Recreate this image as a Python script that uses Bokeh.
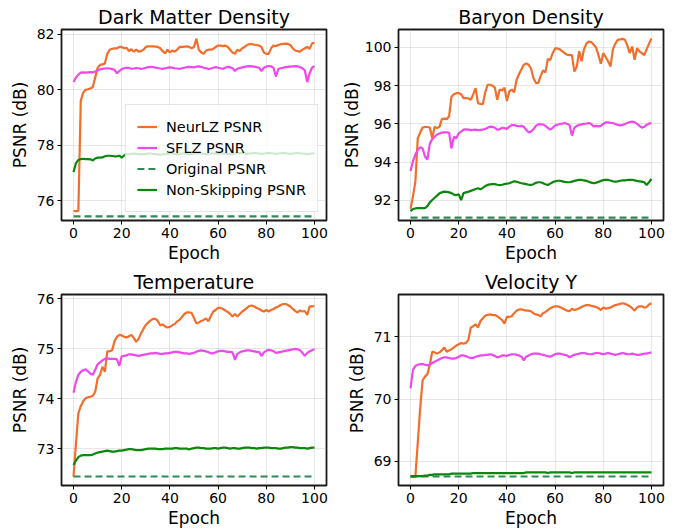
from bokeh.plotting import figure
from bokeh.layouts import gridplot
from bokeh.models import Range1d, FixedTicker
from bokeh.embed import file_html
from bokeh.resources import INLINE

epochs = list(range(101))

# ---------------- Dark Matter Density ----------------
dm_neurlz = [75.62, 75.62, 75.63, 79.60, 79.90, 80.00, 80.02, 80.05, 80.10, 80.45, 80.80,
             80.90, 80.92, 80.95, 81.30, 81.45, 81.48, 81.50, 81.50, 81.55, 81.55,
             81.50, 81.52, 81.40, 81.47, 81.38, 81.45, 81.38, 81.40, 81.45, 81.55,
             81.57, 81.57, 81.57, 81.56, 81.55, 81.50, 81.40, 81.32, 81.45, 81.35,
             81.42, 81.38, 81.45, 81.55, 81.55, 81.56, 81.57, 81.55, 81.50, 81.55,
             81.85, 81.45, 81.35, 81.30, 81.42, 81.45, 81.45, 81.48, 81.55, 81.60,
             81.60, 81.58, 81.60, 81.55, 81.45, 81.35, 81.30, 81.45, 81.40, 81.50,
             81.55, 81.62, 81.65, 81.65, 81.63, 81.62, 81.60, 81.55, 81.35, 81.30,
             81.30, 81.50, 81.60, 81.58, 81.62, 81.65, 81.66, 81.67, 81.66, 81.62,
             81.50, 81.42, 81.40, 81.38, 81.45, 81.50, 81.55, 81.48, 81.68, 81.70]
dm_sflz = [80.28, 80.45, 80.55, 80.62, 80.63, 80.62, 80.63, 80.64, 80.63, 80.66, 80.70,
           80.74, 80.76, 80.77, 80.78, 80.77, 80.75, 80.72, 80.60, 80.68, 80.75,
           80.78, 80.80, 80.79, 80.76, 80.77, 80.79, 80.78, 80.76, 80.77, 80.80,
           80.82, 80.83, 80.82, 80.80, 80.79, 80.77, 80.76, 80.78, 80.80, 80.81,
           80.80, 80.78, 80.77, 80.76, 80.78, 80.80, 80.82, 80.83, 80.82, 80.81,
           80.84, 80.85, 80.83, 80.80, 80.78, 80.75, 80.77, 80.80, 80.82, 80.80,
           80.78, 80.76, 80.80, 80.83, 80.82, 80.78, 80.68, 80.76, 80.79, 80.81,
           80.83, 80.85, 80.86, 80.85, 80.84, 80.82, 80.80, 80.68, 80.80, 80.84,
           80.86, 80.85, 80.80, 80.48, 80.75, 80.78, 80.80, 80.82, 80.83, 80.84,
           80.85, 80.86, 80.85, 80.82, 80.78, 80.70, 80.28, 80.60, 80.80, 80.86]
dm_nonskip = [77.03, 77.35, 77.47, 77.50, 77.51, 77.50, 77.50, 77.49, 77.45, 77.52, 77.55,
              77.55, 77.56, 77.60, 77.62, 77.62, 77.61, 77.60, 77.60, 77.62, 77.55,
              77.63, 77.68, 77.68, 77.69, 77.70, 77.69, 77.68, 77.67, 77.68, 77.69,
              77.70, 77.70, 77.69, 77.68, 77.67, 77.66, 77.67, 77.68, 77.69, 77.70,
              77.70, 77.69, 77.68, 77.69, 77.70, 77.70, 77.69, 77.68, 77.69, 77.70,
              77.70, 77.71, 77.70, 77.69, 77.68, 77.69, 77.70, 77.71, 77.70, 77.69,
              77.70, 77.71, 77.70, 77.69, 77.68, 77.69, 77.70, 77.71, 77.72, 77.71,
              77.70, 77.69, 77.70, 77.71, 77.72, 77.71, 77.70, 77.69, 77.70, 77.71,
              77.72, 77.71, 77.70, 77.69, 77.70, 77.71, 77.72, 77.71, 77.70, 77.69,
              77.70, 77.71, 77.72, 77.71, 77.70, 77.69, 77.68, 77.69, 77.70, 77.71]
dm_original = 75.43

# ---------------- Baryon Density ----------------
by_neurlz = [91.56, 92.20, 92.98, 95.25, 95.55, 95.81, 95.84, 95.84, 95.81, 95.25, 95.86,
             95.78, 95.85, 96.26, 96.28, 96.25, 96.40, 97.43, 97.55, 97.61, 97.62,
             97.55, 97.35, 97.36, 97.33, 97.26, 97.55, 97.87, 97.08, 97.05, 97.03,
             97.65, 98.05, 98.05, 98.00, 97.90, 97.26, 97.80, 97.75, 97.90, 97.20,
             97.70, 97.80, 97.65, 98.30, 98.60, 98.85, 99.10, 99.17, 99.10, 98.90,
             98.40, 98.15, 98.13, 98.50, 98.80, 98.70, 99.40, 99.35, 99.70, 99.96,
             99.95, 99.90, 99.80, 99.70, 99.62, 99.60, 99.60, 98.74, 99.00, 99.80,
             99.28, 99.90, 100.20, 100.31, 100.28, 100.15, 100.00, 99.60, 99.15, 99.70,
             99.50, 99.28, 99.00, 99.90, 100.20, 100.40, 100.42, 100.45, 100.40, 100.10,
             99.70, 100.05, 99.35, 99.96, 99.80, 99.70, 99.60, 99.90, 100.20, 100.47]
by_sflz = [93.54, 94.05, 94.40, 94.64, 94.78, 94.72, 94.30, 94.14, 94.97, 95.20, 95.33,
           95.45, 95.50, 95.55, 95.56, 95.56, 95.55, 94.72, 95.33, 95.25, 95.52,
           95.60, 95.70, 95.72, 95.70, 95.68, 95.69, 95.70, 95.68, 95.69, 95.70,
           95.74, 95.80, 95.86, 95.85, 95.80, 95.70, 95.72, 95.80, 95.78, 95.74,
           95.86, 95.94, 95.94, 95.90, 95.88, 95.90, 95.85, 95.70, 95.56, 95.60,
           95.72, 95.90, 95.98, 95.98, 95.97, 95.90, 95.80, 95.70, 95.80, 95.92,
           95.96, 96.00, 96.02, 96.05, 96.00, 95.95, 95.39, 95.80, 95.90, 95.95,
           95.98, 96.00, 96.02, 96.05, 96.00, 95.87, 95.90, 95.87, 95.90, 96.00,
           96.08, 96.08, 96.06, 96.05, 96.00, 95.95, 95.92, 95.95, 96.00, 96.05,
           96.10, 96.12, 96.10, 96.00, 95.90, 95.81, 95.85, 95.95, 96.02, 96.05]
by_nonskip = [91.44, 91.55, 91.58, 91.60, 91.60, 91.60, 91.60, 91.70, 91.90, 92.02, 92.14,
              92.25, 92.37, 92.42, 92.46, 92.45, 92.42, 92.38, 92.30, 92.28, 92.32,
              92.02, 92.38, 92.42, 92.45, 92.50, 92.55, 92.60, 92.64, 92.58, 92.66,
              92.75, 92.81, 92.84, 92.85, 92.85, 92.82, 92.80, 92.82, 92.85, 92.88,
              92.90, 92.95, 93.00, 92.98, 92.94, 92.90, 92.88, 92.85, 92.82, 92.81,
              92.85, 92.92, 92.95, 92.95, 92.90, 92.85, 92.81, 92.88, 92.95, 93.00,
              93.03, 93.03, 93.00, 92.97, 92.95, 92.95, 92.98, 93.02, 93.05, 93.08,
              93.07, 93.05, 93.02, 92.98, 92.93, 92.90, 92.92, 92.97, 93.02, 93.06,
              93.08, 93.07, 93.04, 93.00, 92.98, 93.00, 93.03, 93.05, 93.05, 93.07,
              93.08, 93.08, 93.05, 93.02, 93.00, 92.98, 92.95, 92.81, 92.95, 93.12]
by_original = 91.10

# ---------------- Temperature ----------------
tp_neurlz = [72.44, 73.10, 73.71, 73.85, 73.95, 74.01, 74.03, 74.04, 74.06, 74.14, 74.41,
             74.48, 74.64, 74.54, 74.95, 74.95, 74.97, 75.15, 75.24, 75.28, 75.27,
             75.24, 75.23, 75.25, 75.28, 75.22, 75.14, 75.20, 75.31, 75.40, 75.48,
             75.53, 75.57, 75.60, 75.60, 75.56, 75.47, 75.49, 75.45, 75.43, 75.44,
             75.47, 75.50, 75.55, 75.58, 75.64, 75.70, 75.73, 75.73, 75.72, 75.62,
             75.51, 75.53, 75.56, 75.58, 75.61, 75.55, 75.66, 75.75, 75.78, 75.82,
             75.82, 75.80, 75.77, 75.74, 75.70, 75.65, 75.70, 75.65, 75.70, 75.75,
             75.78, 75.82, 75.86, 75.87, 75.85, 75.82, 75.80, 75.77, 75.75, 75.78,
             75.75, 75.78, 75.80, 75.83, 75.85, 75.88, 75.90, 75.90, 75.88, 75.85,
             75.80, 75.76, 75.73, 75.77, 75.75, 75.76, 75.68, 75.85, 75.85, 75.86]
tp_sflz = [74.12, 74.34, 74.48, 74.54, 74.57, 74.59, 74.55, 74.50, 74.48, 74.58, 74.69,
           74.73, 74.77, 74.80, 74.81, 74.80, 74.80, 74.80, 74.79, 74.66, 74.85,
           74.86, 74.87, 74.89, 74.89, 74.88, 74.87, 74.86, 74.87, 74.88, 74.89,
           74.90, 74.91, 74.91, 74.92, 74.91, 74.90, 74.90, 74.91, 74.91, 74.92,
           74.93, 74.94, 74.94, 74.93, 74.92, 74.91, 74.91, 74.90, 74.91, 74.92,
           74.94, 74.96, 74.97, 74.96, 74.95, 74.93, 74.91, 74.91, 74.93, 74.95,
           74.96, 74.96, 74.95, 74.94, 74.94, 74.93, 74.78, 74.90, 74.93, 74.95,
           74.96, 74.97, 74.97, 74.96, 74.95, 74.94, 74.94, 74.86, 74.93, 74.96,
           74.98, 74.97, 74.95, 74.92, 74.93, 74.94, 74.95, 74.96, 74.97, 74.98,
           74.99, 75.00, 74.99, 74.97, 74.92, 74.86, 74.92, 74.95, 74.97, 74.99]
tp_nonskip = [72.67, 72.76, 72.83, 72.86, 72.87, 72.87, 72.87, 72.87, 72.88, 72.90, 72.92,
              72.93, 72.94, 72.95, 72.96, 72.95, 72.94, 72.94, 72.95, 72.96, 72.96,
              72.97, 72.98, 72.99, 72.99, 72.98, 72.97, 72.97, 72.97, 72.98, 72.99,
              73.00, 73.00, 73.00, 73.00, 72.99, 72.99, 72.99, 73.00, 73.00, 73.00,
              73.00, 73.01, 73.01, 73.00, 73.00, 73.00, 73.00, 72.98, 73.00, 73.01,
              73.02, 73.02, 73.01, 73.01, 73.00, 73.00, 73.00, 73.01, 73.01, 73.00,
              73.01, 73.02, 73.02, 73.01, 73.00, 73.01, 73.01, 73.00, 73.00, 73.01,
              73.02, 73.02, 73.02, 73.01, 73.01, 73.00, 73.01, 73.01, 73.02, 73.02,
              73.02, 73.01, 73.01, 73.01, 73.00, 73.00, 73.01, 73.02, 73.02, 73.03,
              73.03, 73.02, 73.02, 73.01, 73.01, 73.01, 73.00, 73.01, 73.02, 73.02]
tp_original = 72.44

# ---------------- Velocity Y ----------------
vy_neurlz = [68.75, 68.75, 68.75, 69.30, 69.85, 70.30, 70.36, 70.40, 70.55, 70.76, 70.75,
             70.73, 70.75, 70.78, 70.83, 70.76, 70.78, 70.80, 70.83, 70.86, 70.88,
             70.90, 70.89, 70.90, 70.95, 71.15, 71.17, 71.20, 71.15, 71.25, 71.30,
             71.34, 71.35, 71.36, 71.35, 71.35, 71.33, 71.30, 71.27, 71.21, 71.32,
             71.32, 71.33, 71.38, 71.42, 71.44, 71.44, 71.43, 71.42, 71.42, 71.41,
             71.38, 71.36, 71.35, 71.33, 71.38, 71.40, 71.43, 71.46, 71.48, 71.49,
             71.49, 71.48, 71.46, 71.44, 71.42, 71.41, 71.45, 71.43, 71.44, 71.46,
             71.48, 71.50, 71.51, 71.51, 71.50, 71.49, 71.48, 71.46, 71.43, 71.47,
             71.45, 71.46, 71.47, 71.49, 71.51, 71.52, 71.53, 71.54, 71.53, 71.51,
             71.49, 71.46, 71.42, 71.47, 71.49, 71.49, 71.47, 71.48, 71.52, 71.54]
vy_sflz = [70.17, 70.47, 70.53, 70.55, 70.56, 70.56, 70.55, 70.54, 70.55, 70.58, 70.60,
           70.62, 70.64, 70.66, 70.67, 70.67, 70.66, 70.65, 70.65, 70.66, 70.68,
           70.70, 70.70, 70.69, 70.67, 70.66, 70.66, 70.68, 70.69, 70.70, 70.70,
           70.71, 70.71, 70.72, 70.71, 70.69, 70.67, 70.68, 70.70, 70.70, 70.69,
           70.71, 70.72, 70.72, 70.71, 70.70, 70.68, 70.62, 70.68, 70.70, 70.72,
           70.73, 70.73, 70.73, 70.72, 70.71, 70.70, 70.69, 70.68, 70.70, 70.72,
           70.73, 70.73, 70.72, 70.71, 70.70, 70.67, 70.69, 70.71, 70.72, 70.73,
           70.74, 70.74, 70.73, 70.72, 70.72, 70.73, 70.74, 70.74, 70.73, 70.72,
           70.73, 70.74, 70.73, 70.72, 70.71, 70.72, 70.73, 70.74, 70.73, 70.72,
           70.72, 70.73, 70.72, 70.71, 70.71, 70.72, 70.73, 70.73, 70.74, 70.75]
vy_nonskip = [68.76, 68.76, 68.76, 68.76, 68.76, 68.76, 68.77, 68.77, 68.78, 68.78, 68.79,
              68.79, 68.79, 68.79, 68.79, 68.79, 68.79, 68.80, 68.80, 68.80, 68.80,
              68.80, 68.80, 68.80, 68.80, 68.80, 68.81, 68.81, 68.81, 68.81, 68.81,
              68.81, 68.81, 68.81, 68.81, 68.81, 68.81, 68.81, 68.81, 68.81, 68.81,
              68.81, 68.81, 68.81, 68.81, 68.81, 68.81, 68.81, 68.82, 68.82, 68.82,
              68.82, 68.82, 68.82, 68.82, 68.82, 68.82, 68.81, 68.82, 68.82, 68.82,
              68.82, 68.82, 68.82, 68.82, 68.82, 68.82, 68.81, 68.82, 68.82, 68.82,
              68.82, 68.82, 68.82, 68.82, 68.82, 68.82, 68.82, 68.82, 68.82, 68.82,
              68.82, 68.82, 68.82, 68.82, 68.82, 68.82, 68.82, 68.82, 68.82, 68.82,
              68.82, 68.82, 68.82, 68.82, 68.82, 68.82, 68.82, 68.82, 68.82, 68.82]
vy_original = 68.755

x_ticks = [0, 20, 40, 60, 80, 100]
series_labels = ["NeurLZ PSNR", "SFLZ PSNR", "Original PSNR", "Non-Skipping PSNR"]

C_NEUR = "#f26e2a"
C_SFLZ = "#ee48ee"
C_ORIG = "#2e8b57"
C_NON = "#0b870b"
FONT = "DejaVu Sans"


def make(title, neur, sflz, nonskip, orig, yr, yticks, legend, right_border, top, bottom, label_standoff):
    p = figure(frame_width=265, frame_height=191,
               min_border_left=61, min_border_right=right_border,
               min_border_top=top, min_border_bottom=bottom,
               x_range=Range1d(-5, 105), y_range=Range1d(*yr),
               output_backend="svg", toolbar_location=None,
               background_fill_color="white", border_fill_color="white")
    p.title.text = title
    p.title.text_font = FONT
    p.title.text_font_size = "19px"
    p.title.text_font_style = "normal"
    p.title.text_color = "black"
    p.title.align = "center"
    p.title.standoff = 4

    orig_line = [orig] * len(epochs)
    if legend:
        p.line(epochs, neur, line_color=C_NEUR, line_width=2.2, legend_label=series_labels[0])
        p.line(epochs, sflz, line_color=C_SFLZ, line_width=2.2, legend_label=series_labels[1])
        p.line(epochs, orig_line, line_color=C_ORIG, line_width=2.2, line_dash="7 4",
               legend_label=series_labels[2])
        p.line(epochs, nonskip, line_color=C_NON, line_width=2.2, legend_label=series_labels[3])
    else:
        p.line(epochs, neur, line_color=C_NEUR, line_width=2.2)
        p.line(epochs, sflz, line_color=C_SFLZ, line_width=2.2)
        p.line(epochs, orig_line, line_color=C_ORIG, line_width=2.2, line_dash="7 4")
        p.line(epochs, nonskip, line_color=C_NON, line_width=2.2)

    p.xaxis.ticker = FixedTicker(ticks=x_ticks)
    p.yaxis.ticker = FixedTicker(ticks=yticks)
    p.xaxis.axis_label = "Epoch"
    p.yaxis.axis_label = "PSNR (dB)"
    for ax in (p.xaxis[0], p.yaxis[0]):
        ax.axis_label_text_font = FONT
        ax.axis_label_text_font_size = "17px"
        ax.axis_label_text_font_style = "normal"
        ax.axis_label_text_color = "black"
        ax.major_label_text_font = FONT
        ax.major_label_text_font_size = "14px"
        ax.major_label_text_color = "black"
        ax.axis_line_color = None
        ax.major_tick_in = 0
        ax.major_tick_out = 4
        ax.major_tick_line_color = "black"
        ax.minor_tick_line_color = None
        ax.major_label_standoff = 3
    p.xaxis.axis_label_standoff = 2
    p.yaxis.axis_label_standoff = label_standoff
    p.grid.grid_line_color = "#b0b0b0"
    p.grid.grid_line_alpha = 0.3
    p.outline_line_color = "#1a1a1a"
    p.outline_line_width = 1.8
    p.outline_line_alpha = 1.0

    if legend:
        lg = p.legend[0]
        lg.location = "bottom_right"
        lg.margin = 8
        lg.padding = 11
        lg.spacing = 0
        lg.glyph_width = 20
        lg.glyph_height = 21
        lg.label_height = 21
        lg.label_standoff = 9
        lg.label_text_font = FONT
        lg.label_text_font_size = "14.5px"
        lg.label_text_color = "black"
        lg.border_line_color = "#cccccc"
        lg.border_line_width = 1
        lg.background_fill_color = "white"
        lg.background_fill_alpha = 0.8
    return p


p1 = make("Dark Matter Density", dm_neurlz, dm_sflz, dm_nonskip, dm_original,
          (75.28, 82.18), [76, 78, 80, 82], True, 11, 29, 45, 4)
p2 = make("Baryon Density", by_neurlz, by_sflz, by_nonskip, by_original,
          (90.95, 100.94), [92, 94, 96, 98, 100], False, 14, 29, 45, 0)
p3 = make("Temperature", tp_neurlz, tp_sflz, tp_nonskip, tp_original,
          (72.26, 76.09), [73, 74, 75, 76], False, 11, 29, 46, 4)
p4 = make("Velocity Y", vy_neurlz, vy_sflz, vy_nonskip, vy_original,
          (68.61, 71.68), [69, 70, 71], False, 14, 29, 46, 4)

grid = gridplot([[p1, p2], [p3, p4]], toolbar_location=None)

with open("out.html", "w") as f:
    f.write(file_html(grid, INLINE))
